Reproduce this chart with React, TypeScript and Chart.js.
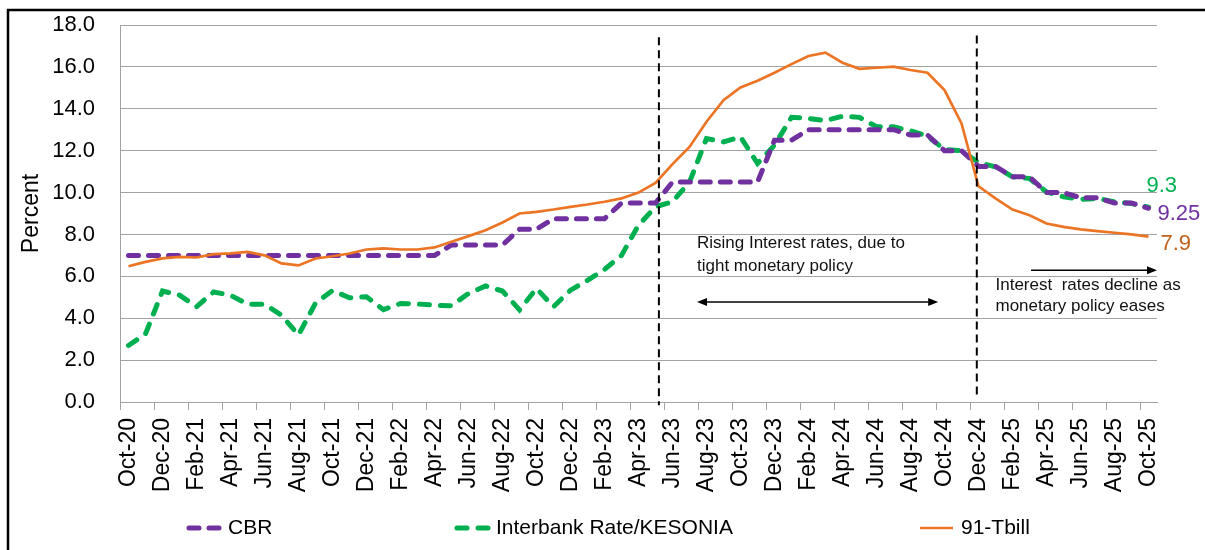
import React, { useEffect, useRef } from "react";
import { Chart, registerables } from "chart.js";

Chart.register(...registerables);

// ---------------- data ----------------
const months = [
  "Oct-20", "Nov-20", "Dec-20",
  "Jan-21", "Feb-21", "Mar-21", "Apr-21", "May-21", "Jun-21", "Jul-21", "Aug-21", "Sep-21", "Oct-21", "Nov-21", "Dec-21",
  "Jan-22", "Feb-22", "Mar-22", "Apr-22", "May-22", "Jun-22", "Jul-22", "Aug-22", "Sep-22", "Oct-22", "Nov-22", "Dec-22",
  "Jan-23", "Feb-23", "Mar-23", "Apr-23", "May-23", "Jun-23", "Jul-23", "Aug-23", "Sep-23", "Oct-23", "Nov-23", "Dec-23",
  "Jan-24", "Feb-24", "Mar-24", "Apr-24", "May-24", "Jun-24", "Jul-24", "Aug-24", "Sep-24", "Oct-24", "Nov-24", "Dec-24",
  "Jan-25", "Feb-25", "Mar-25", "Apr-25", "May-25", "Jun-25", "Jul-25", "Aug-25", "Sep-25", "Oct-25",
];

const cbr = [
  7.0, 7.0, 7.0,
  7.0, 7.0, 7.0, 7.0, 7.0, 7.0, 7.0, 7.0, 7.0, 7.0, 7.0, 7.0,
  7.0, 7.0, 7.0, 7.0, 7.5, 7.5, 7.5, 7.5, 8.25, 8.25, 8.75, 8.75,
  8.75, 8.75, 9.5, 9.5, 9.5, 10.5, 10.5, 10.5, 10.5, 10.5, 10.5, 12.5,
  12.5, 13.0, 13.0, 13.0, 13.0, 13.0, 13.0, 12.75, 12.75, 12.0, 12.0, 11.25,
  11.25, 10.75, 10.75, 10.0, 10.0, 9.75, 9.75, 9.5, 9.5, 9.25,
];

const interbank = [
  2.7, 3.25, 5.3,
  5.1, 4.55, 5.25, 5.1, 4.67, 4.67, 4.14, 3.2, 4.72, 5.32, 4.98, 5.02,
  4.41, 4.7, 4.68, 4.62, 4.6, 5.18, 5.54, 5.3, 4.4, 5.42, 4.55, 5.34,
  5.81, 6.33, 7.0, 8.44, 9.32, 9.56, 10.5, 12.58, 12.42, 12.66, 11.39, 12.26,
  13.59, 13.54, 13.43, 13.65, 13.59, 13.14, 13.14, 12.95, 12.69, 12.06, 11.99, 11.43,
  11.23, 10.75, 10.67, 10.03, 9.8, 9.68, 9.72, 9.56, 9.48, 9.3,
];

const tbill = [
  6.48, 6.69, 6.86,
  6.93, 6.9, 7.06, 7.1, 7.17, 7.0, 6.62, 6.52, 6.85, 6.96, 7.09, 7.28,
  7.33, 7.28, 7.28, 7.38, 7.65, 7.92, 8.2, 8.57, 9.0, 9.08, 9.19, 9.32,
  9.43, 9.56, 9.72, 10.0, 10.46, 11.36, 12.18, 13.38, 14.41, 15.02, 15.34, 15.72,
  16.13, 16.52, 16.68, 16.2, 15.91, 15.96, 16.01, 15.85, 15.72, 14.89, 13.3, 10.3,
  9.72, 9.19, 8.92, 8.52, 8.36, 8.24, 8.16, 8.08, 8.0, 7.9,
];

const seriesNames = ["CBR", "Interbank Rate/KESONIA", "91-Tbill"];
const endValueLabels = ["9.25", "9.3", "7.9"]; // CBR, Interbank, 91-Tbill latest values
const yAxisTitle = "Percent";
const yMin = 0;
const yMax = 18;
const yStep = 2;
const noteTightening = ["Rising Interest rates, due to", "tight monetary policy"];
const noteEasing = ["Interest  rates decline as", "monetary policy eases"];

// ---------------- styles ----------------
const FONT = "'Liberation Sans', Arial, sans-serif";
const PURPLE = "#7030A0";
const GREEN = "#00B050";
const ORANGE = "#EB7524";
const BROWN = "#C0601A";
const GRID = "#A3A3A3";

const overlayPlugin = {
  id: "overlay",
  beforeDraw(chart: any) {
    const { ctx, width, height } = chart;
    ctx.save();
    ctx.fillStyle = "#ffffff";
    ctx.fillRect(0, 0, width, height);
    ctx.strokeStyle = "#000000";
    ctx.lineWidth = 2.5;
    ctx.beginPath();
    ctx.moveTo(8, height);
    ctx.lineTo(8, 10);
    ctx.lineTo(width, 10);
    ctx.stroke();
    ctx.restore();
  },
  afterDatasetsDraw(chart: any) {
    const { ctx } = chart;
    const xs = chart.scales.x;
    const ys = chart.scales.y;
    const px = (i: number) => xs.getPixelForValue(i);
    const py = (v: number) => ys.getPixelForValue(v);
    ctx.save();

    // policy-shift markers
    ctx.strokeStyle = "#000000";
    ctx.lineWidth = 2;
    ctx.setLineDash([8, 5]);
    const markers = [
      [31.2, 17.42, -0.15],
      [49.9, 17.5, 0.3],
    ];
    for (const [i, a, b] of markers) {
      ctx.beginPath();
      ctx.moveTo(px(i), py(a));
      ctx.lineTo(px(i), py(b));
      ctx.stroke();
    }
    ctx.setLineDash([]);

    // arrows
    const head = (x: number, y: number, dir: number) => {
      ctx.beginPath();
      ctx.moveTo(x, y);
      ctx.lineTo(x - dir * 10, y - 4);
      ctx.lineTo(x - dir * 10, y + 4);
      ctx.closePath();
      ctx.fill();
    };
    ctx.fillStyle = "#000000";
    ctx.lineWidth = 1.5;
    {
      const x1 = px(33.44), x2 = px(47.63), y = py(4.78);
      ctx.beginPath();
      ctx.moveTo(x1 + 5, y);
      ctx.lineTo(x2 - 5, y);
      ctx.stroke();
      head(x1, y, -1);
      head(x2, y, 1);
    }
    {
      const x1 = px(53.09), x2 = xs.right, y = py(6.29);
      ctx.beginPath();
      ctx.moveTo(x1, y);
      ctx.lineTo(x2 - 5, y);
      ctx.stroke();
      head(x2, y, 1);
    }

    // notes
    ctx.font = `17px ${FONT}`;
    ctx.fillStyle = "#111111";
    ctx.textAlign = "left";
    ctx.textBaseline = "middle";
    ctx.fillText(noteTightening[0], px(33.44), py(7.58));
    ctx.fillText(noteTightening[1], px(33.44), py(6.5));
    ctx.fillText(noteEasing[0], px(51.0), py(5.58));
    ctx.fillText(noteEasing[1], px(51.0), py(4.58));

    // end value labels
    const last = months.length - 1;
    const lx = px(last);
    ctx.font = `22px ${FONT}`;
    ctx.fillStyle = GREEN;
    ctx.fillText(endValueLabels[1], lx - 2, py(interbank[last]) - 21);
    ctx.fillStyle = PURPLE;
    ctx.fillText(endValueLabels[0], lx + 9, py(cbr[last]) + 6);
    ctx.fillStyle = BROWN;
    ctx.fillText(endValueLabels[2], lx + 12, py(tbill[last]) + 7);

    ctx.restore();
  },
  afterDraw(chart: any) {
    // legend
    const { ctx } = chart;
    const starts = [187, 455, 920];
    const y = 528;
    ctx.save();
    ctx.font = `21px ${FONT}`;
    ctx.textAlign = "left";
    ctx.textBaseline = "middle";
    chart.data.datasets.forEach((ds: any, k: number) => {
      const x0 = starts[k];
      ctx.strokeStyle = ds.borderColor;
      ctx.lineWidth = ds.borderWidth;
      ctx.lineCap = ds.borderCapStyle || "butt";
      ctx.setLineDash(ds.borderDash || []);
      ctx.beginPath();
      ctx.moveTo(x0 + (ds.borderDash ? 2 : 0), y);
      ctx.lineTo(x0 + 33, y);
      ctx.stroke();
      ctx.setLineDash([]);
      ctx.fillStyle = "#000000";
      ctx.fillText(ds.label, x0 + 41, y);
    });
    ctx.restore();
  },
};

export default function App() {
  const ref = useRef<HTMLCanvasElement | null>(null);

  useEffect(() => {
    if (!ref.current) return;
    const chart = new Chart(ref.current, {
      type: "line",
      data: {
        labels: months,
        datasets: [
          {
            label: seriesNames[0],
            data: cbr,
            borderColor: PURPLE,
            backgroundColor: PURPLE,
            borderWidth: 5,
            borderDash: [10, 10],
            borderCapStyle: "round",
            pointRadius: 0,
            tension: 0,
            order: 1,
          },
          {
            label: seriesNames[1],
            data: interbank,
            borderColor: GREEN,
            backgroundColor: GREEN,
            borderWidth: 5,
            borderDash: [10, 11],
            borderCapStyle: "round",
            pointRadius: 0,
            tension: 0,
            order: 2,
          },
          {
            label: seriesNames[2],
            data: tbill,
            borderColor: ORANGE,
            backgroundColor: ORANGE,
            borderWidth: 2.7,
            pointRadius: 0,
            tension: 0,
            order: 0,
          },
        ],
      },
      options: {
        responsive: false,
        animation: false,
        layout: { padding: { left: 0, top: 25, right: 48, bottom: 0 } },
        plugins: {
          legend: { display: false },
          tooltip: { enabled: false },
        },
        scales: {
          x: {
            type: "category",
            offset: true,
            afterFit: (s: any) => {
              s.height = 148;
              s.paddingLeft = 0;
              s.paddingRight = 0;
            },
            grid: {
              offset: true,
              drawOnChartArea: false,
              drawTicks: true,
              tickLength: 8,
              tickColor: (c: any) => (c.index % 2 === 0 ? GRID : "rgba(0,0,0,0)"),
              tickWidth: 1,
            },
            border: { display: true, color: GRID, width: 1 },
            ticks: {
              autoSkip: false,
              maxRotation: 90,
              minRotation: 90,
              padding: 8,
              color: "#000000",
              font: { family: FONT, size: 23 },
              callback: (_v: any, i: number) => (i % 2 === 0 ? months[i] : ""),
            },
          },
          y: {
            min: yMin,
            max: yMax,
            afterFit: (s: any) => {
              s.width = 120;
              s.paddingTop = 0;
              s.paddingBottom = 0;
            },
            grid: { color: GRID, lineWidth: 1, drawTicks: false },
            border: { display: true, color: GRID, width: 1 },
            ticks: {
              stepSize: yStep,
              padding: 25,
              color: "#000000",
              font: { family: FONT, size: 22 },
              callback: (v: any) => Number(v).toFixed(1),
            },
            title: {
              display: true,
              text: yAxisTitle,
              color: "#000000",
              font: { family: FONT, size: 23 },
              padding: { top: 18, bottom: 0 },
            },
          },
        },
      },
      plugins: [overlayPlugin],
    });
    return () => chart.destroy();
  }, []);

  return (
    <div style={{ position: "absolute", left: 0, top: 0, width: 1205, height: 550 }}>
      <canvas ref={ref} width={1205} height={550} style={{ display: "block" }} />
    </div>
  );
}
